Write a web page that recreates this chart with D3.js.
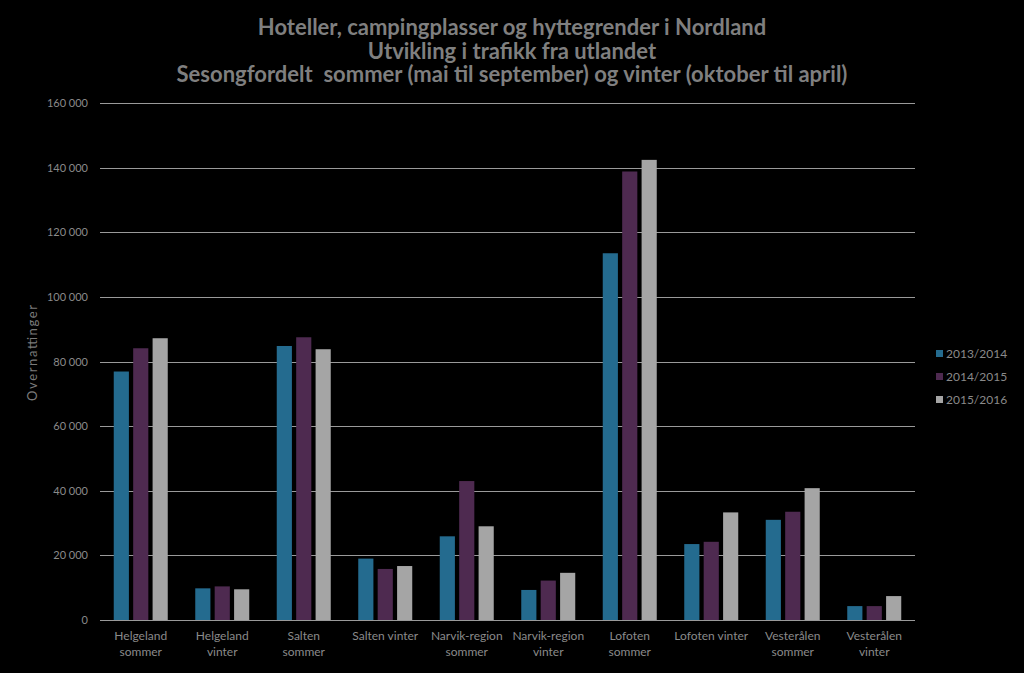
<!DOCTYPE html>
<html>
<head>
<meta charset="utf-8">
<script src="https://cdn.jsdelivr.net/npm/d3@7"></script>
<style>
  body { margin: 0; background: #000; }
  svg { display: block; font-family: Lato, "Open Sans", sans-serif; }
</style>
</head>
<body>
<div id="app"></div>
<script>
const categories = [
  ["Helgeland", "sommer"], ["Helgeland", "vinter"], ["Salten", "sommer"], ["Salten vinter"],
  ["Narvik-region", "sommer"], ["Narvik-region", "vinter"], ["Lofoten", "sommer"], ["Lofoten vinter"],
  ["Vesterålen", "sommer"], ["Vesterålen", "vinter"]
]
const seriesNames = ["2013/2014", "2014/2015", "2015/2016"]
const v2013 = [76900, 9800, 84800, 19000, 25900, 9300, 113500, 23500, 31000, 4300]
const v2014 = [84100, 10400, 87500, 15800, 43000, 12200, 138800, 24200, 33500, 4300]
const v2015 = [87200, 9500, 83800, 16700, 29000, 14600, 142400, 33300, 40800, 7400]
const yTicks = [0, 20000, 40000, 60000, 80000, 100000, 120000, 140000, 160000]
const titleLines = [
  "Hoteller, campingplasser og hyttegrender i Nordland",
  "Utvikling i trafikk fra utlandet",
  "Sesongfordelt  sommer (mai til september) og vinter (oktober til april)"
]

const colors = ["#246b8f", "#4e2a50", "#a5a5a5"]
const width = 1024, height = 673
const plotLeft = 100, plotRight = 915, plotTop = 103, plotBottom = 620

const svg = d3.select("#app").append("svg")
  .attr("width", width).attr("height", height)

svg.append("rect").attr("width", width).attr("height", height).attr("fill", "#000")

let x = d3.scaleBand().domain(d3.range(categories.length)).range([plotLeft, plotRight])
let xs = d3.scaleBand().domain(d3.range(3)).range([0, 54]).paddingInner(0.22)
let y = d3.scaleLinear().domain([0, 160000]).range([plotBottom, plotTop])

// gridlines
svg.append("g")
  .selectAll("line")
  .data(yTicks)
  .enter()
  .append("line")
  .attr("x1", plotLeft).attr("x2", plotRight)
  .attr("y1", d => Math.round(y(d)) + 0.5).attr("y2", d => Math.round(y(d)) + 0.5)
  .attr("stroke", "#9a9a9a").attr("stroke-width", 1)

// y labels
svg.append("g")
  .selectAll("text")
  .data(yTicks)
  .enter()
  .append("text")
  .attr("x", 88).attr("y", d => y(d) + 4)
  .attr("text-anchor", "end")
  .attr("fill", "#8a8a8a").attr("font-size", 11)
  .text(d => d3.format(",")(d).replace(/,/g, " "))

svg.append("text")
  .attr("transform", `translate(37, 353) rotate(-90)`)
  .attr("text-anchor", "middle")
  .attr("fill", "#7a7a7a").attr("font-size", 13)
  .attr("textLength", 96)
  .text("Overnattinger")

// bars
const series = [v2013, v2014, v2015]
series.forEach((vals, s) => {
  svg.append("g")
    .selectAll("rect")
    .data(vals)
    .enter()
    .append("rect")
    .attr("x", (d, i) => x(i) + (x.bandwidth() - 54) / 2 + xs(s))
    .attr("width", xs.bandwidth())
    .attr("y", d => y(d))
    .attr("height", d => y(0) - y(d))
    .attr("fill", colors[s])
})

// category labels
const cat = svg.append("g")
  .selectAll("text")
  .data(categories)
  .enter()
  .append("text")
  .attr("x", (d, i) => x(i) + x.bandwidth() / 2)
  .attr("y", 640)
  .attr("text-anchor", "middle")
  .attr("fill", "#8a8a8a").attr("font-size", 12)
cat.selectAll("tspan")
  .data(d => d)
  .enter()
  .append("tspan")
  .attr("x", function () { return d3.select(this.parentNode).attr("x") })
  .attr("dy", (d, i) => i === 0 ? 0 : 16)
  .text(d => d)

// title
svg.append("g")
  .selectAll("text")
  .data(titleLines)
  .enter()
  .append("text")
  .attr("x", 512).attr("y", (d, i) => 35 + i * 23.5)
  .attr("text-anchor", "middle")
  .attr("fill", "#7f7f7f").attr("font-size", 22).attr("font-weight", "bold")
  .style("white-space", "pre")
  .text(d => d)

// legend
const legend = svg.append("g").attr("transform", "translate(936, 350)")
seriesNames.forEach((name, i) => {
  legend.append("rect")
    .attr("x", 0).attr("y", i * 23)
    .attr("width", 7).attr("height", 7)
    .attr("fill", colors[i])
  legend.append("text")
    .attr("x", 10).attr("y", i * 23 + 8)
    .attr("fill", "#8a8a8a").attr("font-size", 12)
    .text(name)
})
</script>
</body>
</html>
